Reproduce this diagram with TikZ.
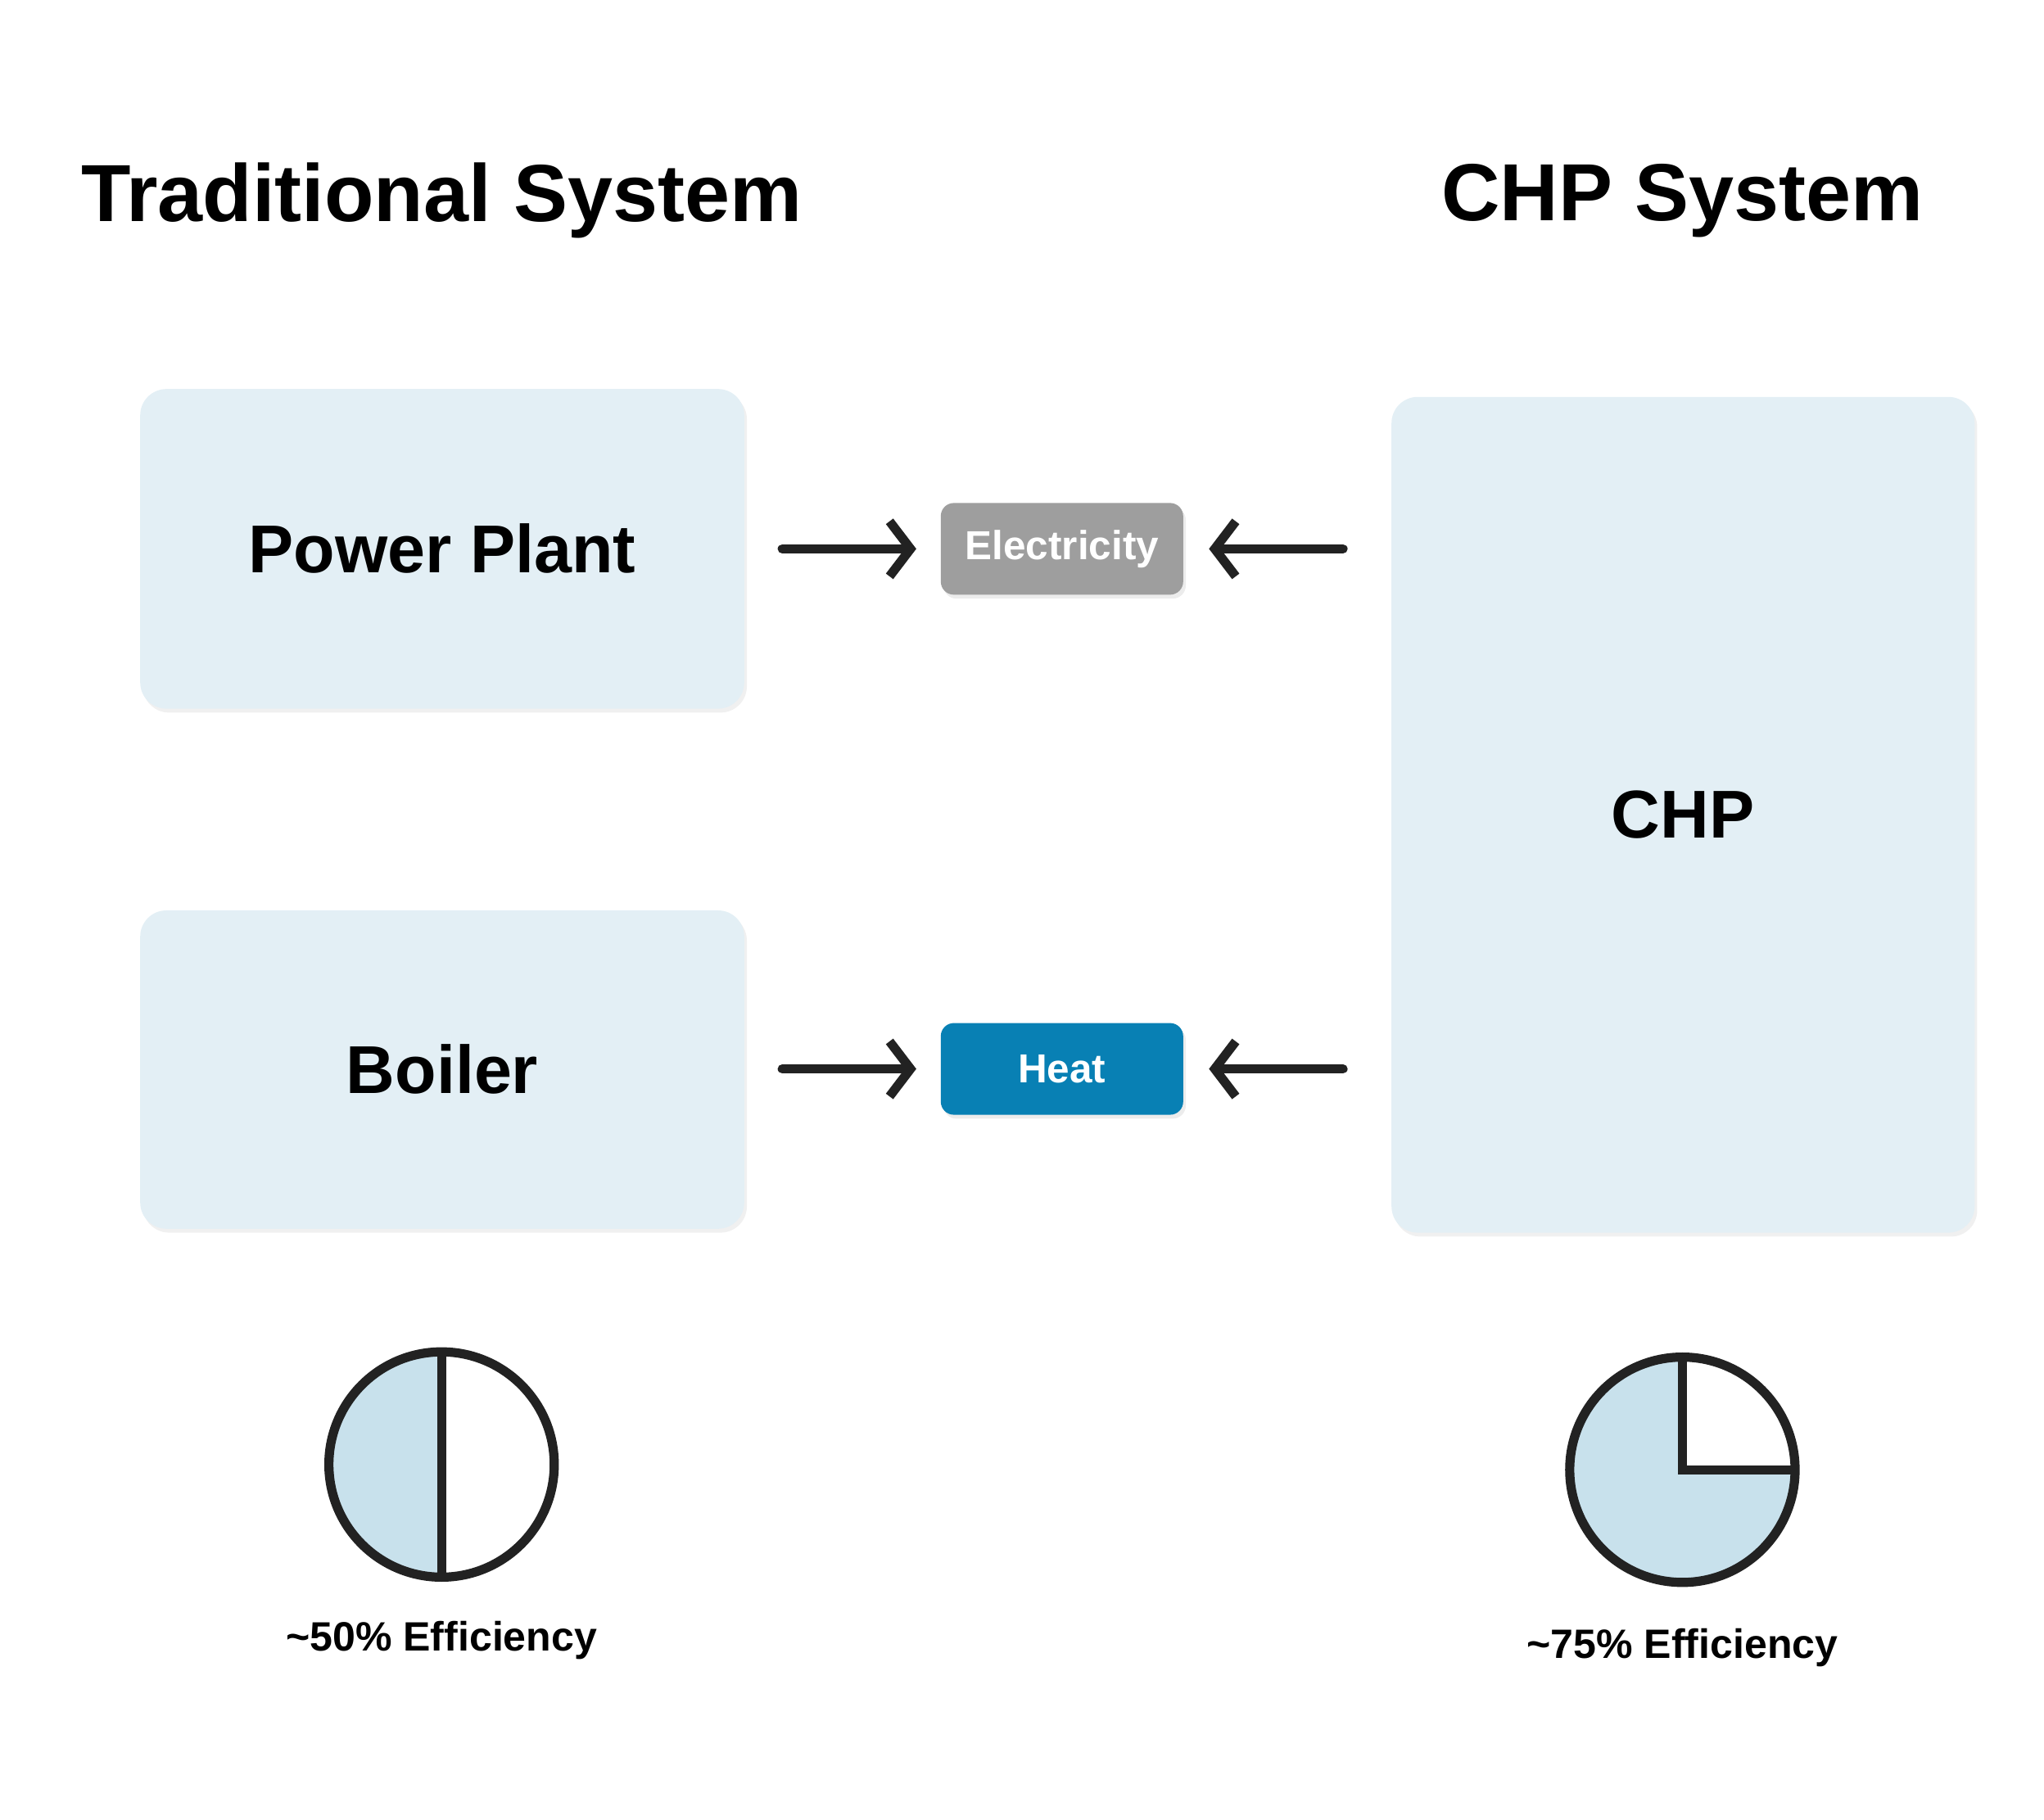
\documentclass[tikz,border=0pt]{standalone}
\usepackage{fontspec}
\setmainfont{Liberation Sans}
\usetikzlibrary{positioning,shadows,arrows.meta}
\definecolor{boxblue}{HTML}{E3EFF5}
\definecolor{pieblue}{HTML}{C8E1EC}
\definecolor{elecgray}{HTML}{9E9E9E}
\definecolor{heatblue}{HTML}{0880B4}
\definecolor{ink}{HTML}{222222}
\tikzset{
  unit/.style={shape=rectangle, rounded corners=0.2cm, fill=boxblue, draw=none,
    drop shadow={shadow xshift=0.02cm, shadow yshift=-0.03cm, opacity=0.12},
    font=\bfseries\fontsize{14.7}{16}\selectfont},
  carrier/.style={shape=rectangle, rounded corners=0.1cm, draw=none, text=white,
    minimum width=1.85cm, minimum height=0.7cm,
    drop shadow={shadow xshift=0.02cm, shadow yshift=-0.03cm, opacity=0.15},
    font=\bfseries\fontsize{8.8}{10}\selectfont},
  flow/.style={draw=ink, line width=0.07cm, line cap=round,
    -{Straight Barb[length=0.16cm, width=0.42cm, line width=0.07cm]}},
  title/.style={font=\bfseries\fontsize{17.6}{20}\selectfont},
  caption/.style={font=\bfseries\fontsize{8.9}{10}\selectfont},
  pie/.style={draw=ink, line width=0.07cm}
}
\begin{document}
\begin{tikzpicture}
\useasboundingbox (0,0) rectangle (15.6,13.89);
%%%%% titles
\node[title](tradtitle) at (3.37,12.36){Traditional System};
\node[title](chptitle) at (12.84,12.36){CHP System};

%%%%% plants
\node[unit, minimum width=4.61cm, minimum height=2.44cm](plant) at (3.375,9.70){Power Plant};
\node[unit, minimum width=4.61cm, minimum height=2.43cm](boiler) at (3.375,5.725){Boiler};
\node[unit, minimum width=4.45cm, minimum height=6.38cm](chp) at (12.845,7.67){CHP};

%%%%% outputs
\node[carrier, fill=elecgray](elec) at (8.105,9.70){Electricity};
\node[carrier, fill=heatblue](heat) at (8.105,5.73){Heat};

\coordinate (pe) at (5.97,9.70);
\coordinate (ce) at (10.25,9.70);
\coordinate (ph) at (5.97,5.73);
\coordinate (ch) at (10.25,5.73);
\draw[flow] (pe) -- ([xshift=-0.18cm]elec.west);
\draw[flow] (ce) -- ([xshift=0.19cm]elec.east);
\draw[flow] (ph) -- ([xshift=-0.18cm]heat.west);
\draw[flow] (ch) -- ([xshift=0.19cm]heat.east);

%%%%% efficiency
\coordinate (pie1) at (3.37,2.71);
\coordinate (pie2) at (12.84,2.67);
\fill[pieblue] (pie1) ++(90:0.86) arc (90:270:0.86) -- cycle;
\draw[pie] (pie1) circle (0.86);
\draw[pie] ([yshift=0.86cm]pie1) -- ([yshift=-0.86cm]pie1);
\fill[pieblue] (pie2) -- ++(90:0.86) arc (90:360:0.86) -- cycle;
\draw[pie] (pie2) circle (0.86);
\draw[pie] ([yshift=0.86cm]pie2) -- (pie2) -- ([xshift=0.86cm]pie2);

\node[caption](eff1) at (3.37,1.37){\textasciitilde50\% Efficiency};
\node[caption](eff2) at (12.84,1.31){\textasciitilde75\% Efficiency};
\end{tikzpicture}
\end{document}
